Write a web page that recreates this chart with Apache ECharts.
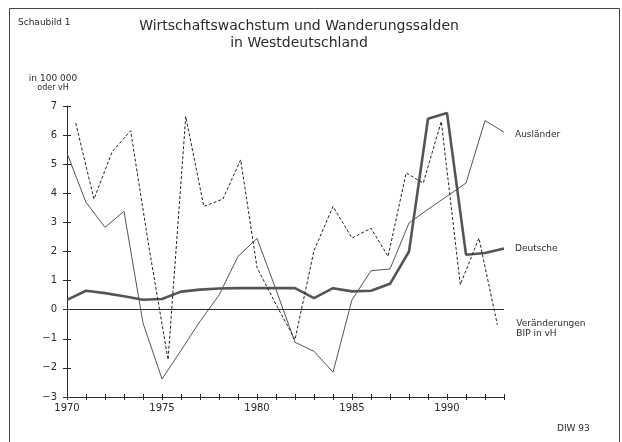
<!DOCTYPE html>
<html>
<head>
<meta charset="utf-8">
<script src="https://cdn.jsdelivr.net/npm/echarts@6/dist/echarts.min.js"></script>
<style>
  html, body { margin: 0; padding: 0; background: #fff; }
  #chart { width: 622px; height: 442px; }
</style>
</head>
<body>
<div id="chart"></div>
<script>
// Jahre 1970-1993
const years = [1970, 1971, 1972, 1973, 1974, 1975, 1976, 1977, 1978, 1979, 1980, 1981,
  1982, 1983, 1984, 1985, 1986, 1987, 1988, 1989, 1990, 1991, 1992, 1993];

// Wanderungssaldo Ausländer (in 100 000)
const auslaender = [5.38, 3.69, 2.83, 3.38, -0.46, -2.38, -1.4, -0.4, 0.5, 1.83, 2.45, 0.69,
  -1.12, -1.43, -2.15, 0.34, 1.34, 1.4, 2.98, 3.45, 3.9, 4.35, 6.5, 6.1];

// Wanderungssaldo Deutsche (in 100 000)
const deutsche = [0.34, 0.65, 0.57, 0.46, 0.34, 0.37, 0.62, 0.69, 0.73, 0.74, 0.74, 0.74,
  0.74, 0.4, 0.74, 0.63, 0.65, 0.89, 2.0, 6.56, 6.76, 1.89, 1.95, 2.1];

// Veränderungen BIP in vH (im Original leicht versetzt gezeichnet)
const bipYears = [1970.46, 1971.42, 1972.37, 1973.35, 1974.3, 1975.32, 1976.25, 1977.2,
  1978.2, 1979.14, 1980.0, 1981.0, 1982.0, 1983.0, 1984.0, 1985.0, 1986.0, 1986.9,
  1987.85, 1988.75, 1989.7, 1990.7, 1991.68, 1992.65];
const bip = [6.41, 3.8, 5.42, 6.15, 2.2, -1.72, 6.64, 3.55, 3.8, 5.15, 1.45, 0.18,
  -1.03, 2.03, 3.55, 2.46, 2.8, 1.83, 4.7, 4.35, 6.47, 0.86, 2.46, -0.52];

const yTicks = [-3, -2, -1, 0, 1, 2, 3, 4, 5, 6, 7];

const ink = "#2a2a2a";
const font = "DejaVu Sans";

const chart = echarts.init(document.getElementById("chart"), null, { renderer: "canvas" });

const pair = (xs, ys) => xs.map((x, i) => [x, ys[i]]);

const xBase = {
  type: "value",
  min: years[0],
  max: years[years.length - 1],
  interval: 1,
  position: "bottom",
  splitLine: { show: false },
};
const yBase = {
  type: "value",
  min: yTicks[0],
  max: yTicks[yTicks.length - 1],
  interval: 1,
  position: "left",
  splitLine: { show: false },
};

chart.setOption({
  backgroundColor: "#fff",
  animation: false,
  title: {
    text: "Wirtschaftswachstum und Wanderungssalden\nin Westdeutschland",
    left: 294,
    top: 13,
    textAlign: "center",
    textStyle: { fontFamily: font, fontSize: 14, fontWeight: "normal", color: ink, lineHeight: 17 },
  },
  grid: { left: 67, right: 118, top: 106, bottom: 45 },
  xAxis: [
    {
      ...xBase,
      axisLine: { onZero: false, lineStyle: { color: ink, width: 1 } },
      axisTick: { length: 3, lineStyle: { color: ink } },
      axisLabel: {
        margin: 6,
        color: ink,
        fontFamily: font,
        fontSize: 10,
        formatter: (v) => (v % 5 === 0 ? String(v) : ""),
      },
    },
    {
      ...xBase,
      axisLine: { show: false, onZero: false },
      axisTick: { inside: true, length: 3, lineStyle: { color: ink } },
      axisLabel: { show: false },
    },
  ],
  yAxis: [
    {
      ...yBase,
      axisLine: { show: true, onZero: false, lineStyle: { color: ink, width: 1 } },
      axisTick: { show: true, length: 4, lineStyle: { color: ink } },
      axisLabel: {
        margin: 10,
        color: ink,
        fontFamily: font,
        fontSize: 10,
        formatter: (v) => String(v).replace("-", "\u2212"),
      },
    },
    {
      ...yBase,
      axisLine: { show: false, onZero: false },
      axisTick: { show: true, inside: true, length: 4, lineStyle: { color: ink } },
      axisLabel: { show: false },
    },
  ],
  series: [
    {
      name: "Ausländer",
      type: "line",
      data: pair(years, auslaender),
      showSymbol: false,
      lineStyle: { color: "#555", width: 1 },
      endLabel: {
        show: true,
        formatter: "Ausländer",
        distance: 11,
        offset: [0, 2],
        color: ink,
        fontFamily: font,
        fontSize: 9,
      },
    },
    {
      name: "Deutsche",
      type: "line",
      data: pair(years, deutsche),
      showSymbol: false,
      lineStyle: { color: "#555", width: 2.6 },
      endLabel: {
        show: true,
        formatter: "Deutsche",
        distance: 11,
        color: ink,
        fontFamily: font,
        fontSize: 9,
      },
      markLine: {
        silent: true,
        symbol: "none",
        label: { show: false },
        lineStyle: { color: ink, width: 1, type: "solid" },
        data: [{ yAxis: 0 }],
      },
    },
    {
      name: "BIP",
      type: "line",
      data: pair(bipYears, bip),
      showSymbol: false,
      lineStyle: { color: "#222", width: 1, type: [3, 2] },
      endLabel: {
        show: true,
        formatter: "Veränderungen\nBIP in vH",
        distance: 19,
        offset: [0, 4],
        color: ink,
        fontFamily: font,
        fontSize: 9,
        lineHeight: 10,
      },
    },
  ],
  graphic: [
    {
      type: "rect",
      shape: { x: 9.5, y: 8.5, width: 610, height: 445 },
      style: { fill: "none", stroke: "#444", lineWidth: 1 },
      silent: true,
    },
    {
      type: "text",
      left: 18,
      top: 18,
      style: { text: "Schaubild 1", fill: ink, font: "9px " + font },
    },
    {
      type: "text",
      x: 53,
      y: 74,
      style: { text: "in 100 000", fill: ink, font: "9px " + font, textAlign: "center" },
    },
    {
      type: "text",
      x: 53,
      y: 84,
      style: { text: "oder vH", fill: ink, font: "8px " + font, textAlign: "center" },
    },
    {
      type: "text",
      x: 557,
      y: 424,
      style: { text: "DIW 93", fill: ink, font: "9px " + font },
    },
  ],
});
</script>
</body>
</html>
